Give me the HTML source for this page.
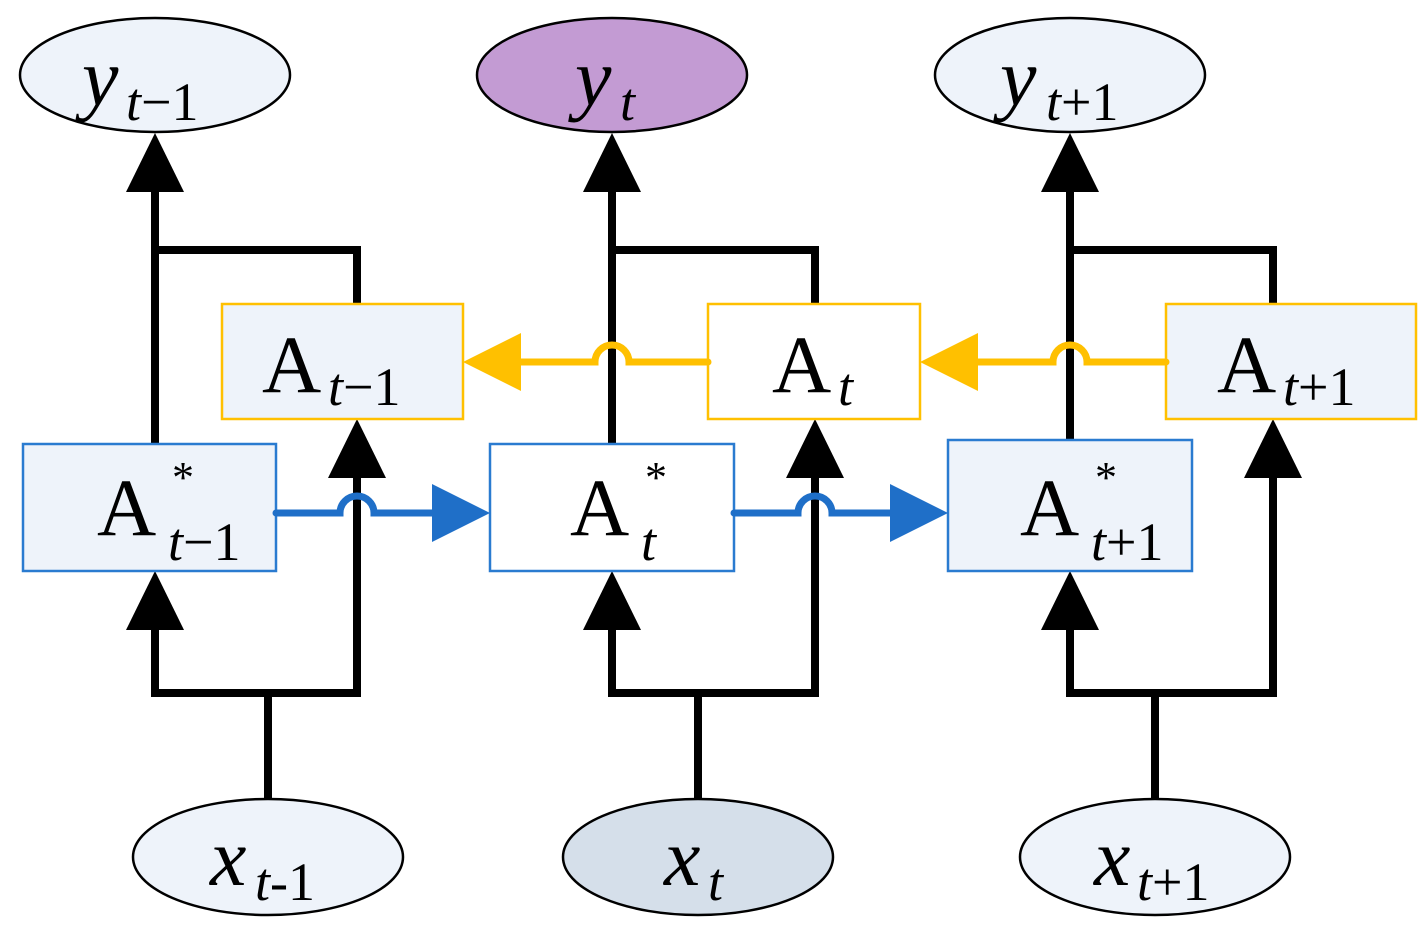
<!DOCTYPE html>
<html><head><meta charset="utf-8"><style>
html,body{margin:0;padding:0;background:#fff;}
svg{display:block;}
svg text{font-family:"Liberation Serif","DejaVu Serif","Times New Roman",serif;fill:#000;}
</style></head><body>
<svg width="1425" height="926" viewBox="0 0 1425 926" xmlns="http://www.w3.org/2000/svg">
<g stroke="#000" stroke-width="8" fill="none" stroke-linecap="round">
<path d="M155 444V190M155 250H357V304M155 628V693H357V476M268 693V800"/>
<path d="M612 444V190M612 250H815V304M612 628V693H815V476M698 693V800"/>
<path d="M1070 440V190M1070 250H1273V304M1070 628V693H1273V476M1155 693V800"/>
</g>
<g fill="#000">
<polygon points="155,133 126,192 184,192"/>
<polygon points="612,133 583,192 641,192"/>
<polygon points="1070,133 1041,192 1099,192"/>
<polygon points="155,571 126,630 184,630"/>
<polygon points="612,571 583,630 641,630"/>
<polygon points="1070,571 1041,630 1099,630"/>
<polygon points="357,419 328,478 386,478"/>
<polygon points="815,419 786,478 844,478"/>
<polygon points="1273,419 1244,478 1302,478"/>
</g>
<g stroke="#000" stroke-width="2.5">
<ellipse cx="155" cy="75" rx="135" ry="57" fill="#eef3fa"/>
<ellipse cx="612" cy="75" rx="135" ry="57" fill="#c39bd3"/>
<ellipse cx="1070" cy="75" rx="135" ry="57" fill="#eef3fa"/>
<ellipse cx="268" cy="857" rx="135" ry="58" fill="#eef3fa"/>
<ellipse cx="698" cy="857" rx="135" ry="58" fill="#d5dfea"/>
<ellipse cx="1155" cy="857" rx="135" ry="58" fill="#eef3fa"/>
</g>
<g stroke="#ffc000" stroke-width="2.5">
<rect x="222" y="304" width="241" height="115" fill="#eef3fa"/>
<rect x="708" y="304" width="212" height="115" fill="#fff"/>
<rect x="1166" y="304" width="250" height="115" fill="#eef3fa"/>
</g>
<g stroke="#2a7bd0" stroke-width="2.5">
<rect x="23" y="444" width="253" height="127" fill="#eef3fa"/>
<rect x="490" y="444" width="244" height="127" fill="#fff"/>
<rect x="948" y="440" width="244" height="131" fill="#eef3fa"/>
</g>
<g stroke="#000" stroke-width="8" stroke-linecap="round">
<path d="M357 478V693M815 478V693"/>
</g>
<g stroke="#1f6fc8" stroke-width="7" fill="none" stroke-linecap="round">
<path d="M276 513H340A17 17 0 0 1 374 513H432"/>
<path d="M734 513H798A17 17 0 0 1 832 513H890"/>
</g>
<g fill="#1f6fc8">
<polygon points="490,513 432,484 432,542"/>
<polygon points="948,513 890,484 890,542"/>
</g>
<g stroke="#ffc000" stroke-width="7" fill="none" stroke-linecap="round">
<path d="M708 362H629A17 17 0 0 0 595 362H520"/>
<path d="M1166 362H1087A17 17 0 0 0 1053 362H978"/>
</g>
<g fill="#ffc000">
<polygon points="463,362 521,333 521,391"/>
<polygon points="920,362 978,333 978,391"/>
</g>
<g font-size="82">
<text x="82" y="105" font-style="italic">y</text><text x="126" y="120" font-size="54"><tspan font-style="italic">t</tspan>−1</text>
<text x="575" y="105" font-style="italic">y</text><text x="620" y="120" font-size="54" font-style="italic">t</text>
<text x="1000" y="105" font-style="italic">y</text><text x="1046" y="120" font-size="54"><tspan font-style="italic">t</tspan>+1</text>
<text x="210" y="885" font-style="italic">x</text><text x="255" y="900" font-size="54"><tspan font-style="italic">t</tspan>-1</text>
<text x="664" y="885" font-style="italic">x</text><text x="708" y="900" font-size="54" font-style="italic">t</text>
<text x="1094" y="885" font-style="italic">x</text><text x="1137" y="900" font-size="54"><tspan font-style="italic">t</tspan>+1</text>
<text x="262" y="392">A</text><text x="328" y="405" font-size="54"><tspan font-style="italic">t</tspan>−1</text>
<text x="772" y="392">A</text><text x="838" y="405" font-size="54" font-style="italic">t</text>
<text x="1217" y="392">A</text><text x="1283" y="405" font-size="54"><tspan font-style="italic">t</tspan>+1</text>
<text x="97" y="535">A</text><text x="168" y="560" font-size="54"><tspan font-style="italic">t</tspan>−1</text><text x="172" y="492" font-size="44">*</text>
<text x="570" y="535">A</text><text x="641" y="560" font-size="54" font-style="italic">t</text><text x="645" y="492" font-size="44">*</text>
<text x="1020" y="535">A</text><text x="1091" y="560" font-size="54"><tspan font-style="italic">t</tspan>+1</text><text x="1095" y="492" font-size="44">*</text>
</g>
</svg>
</body></html>
